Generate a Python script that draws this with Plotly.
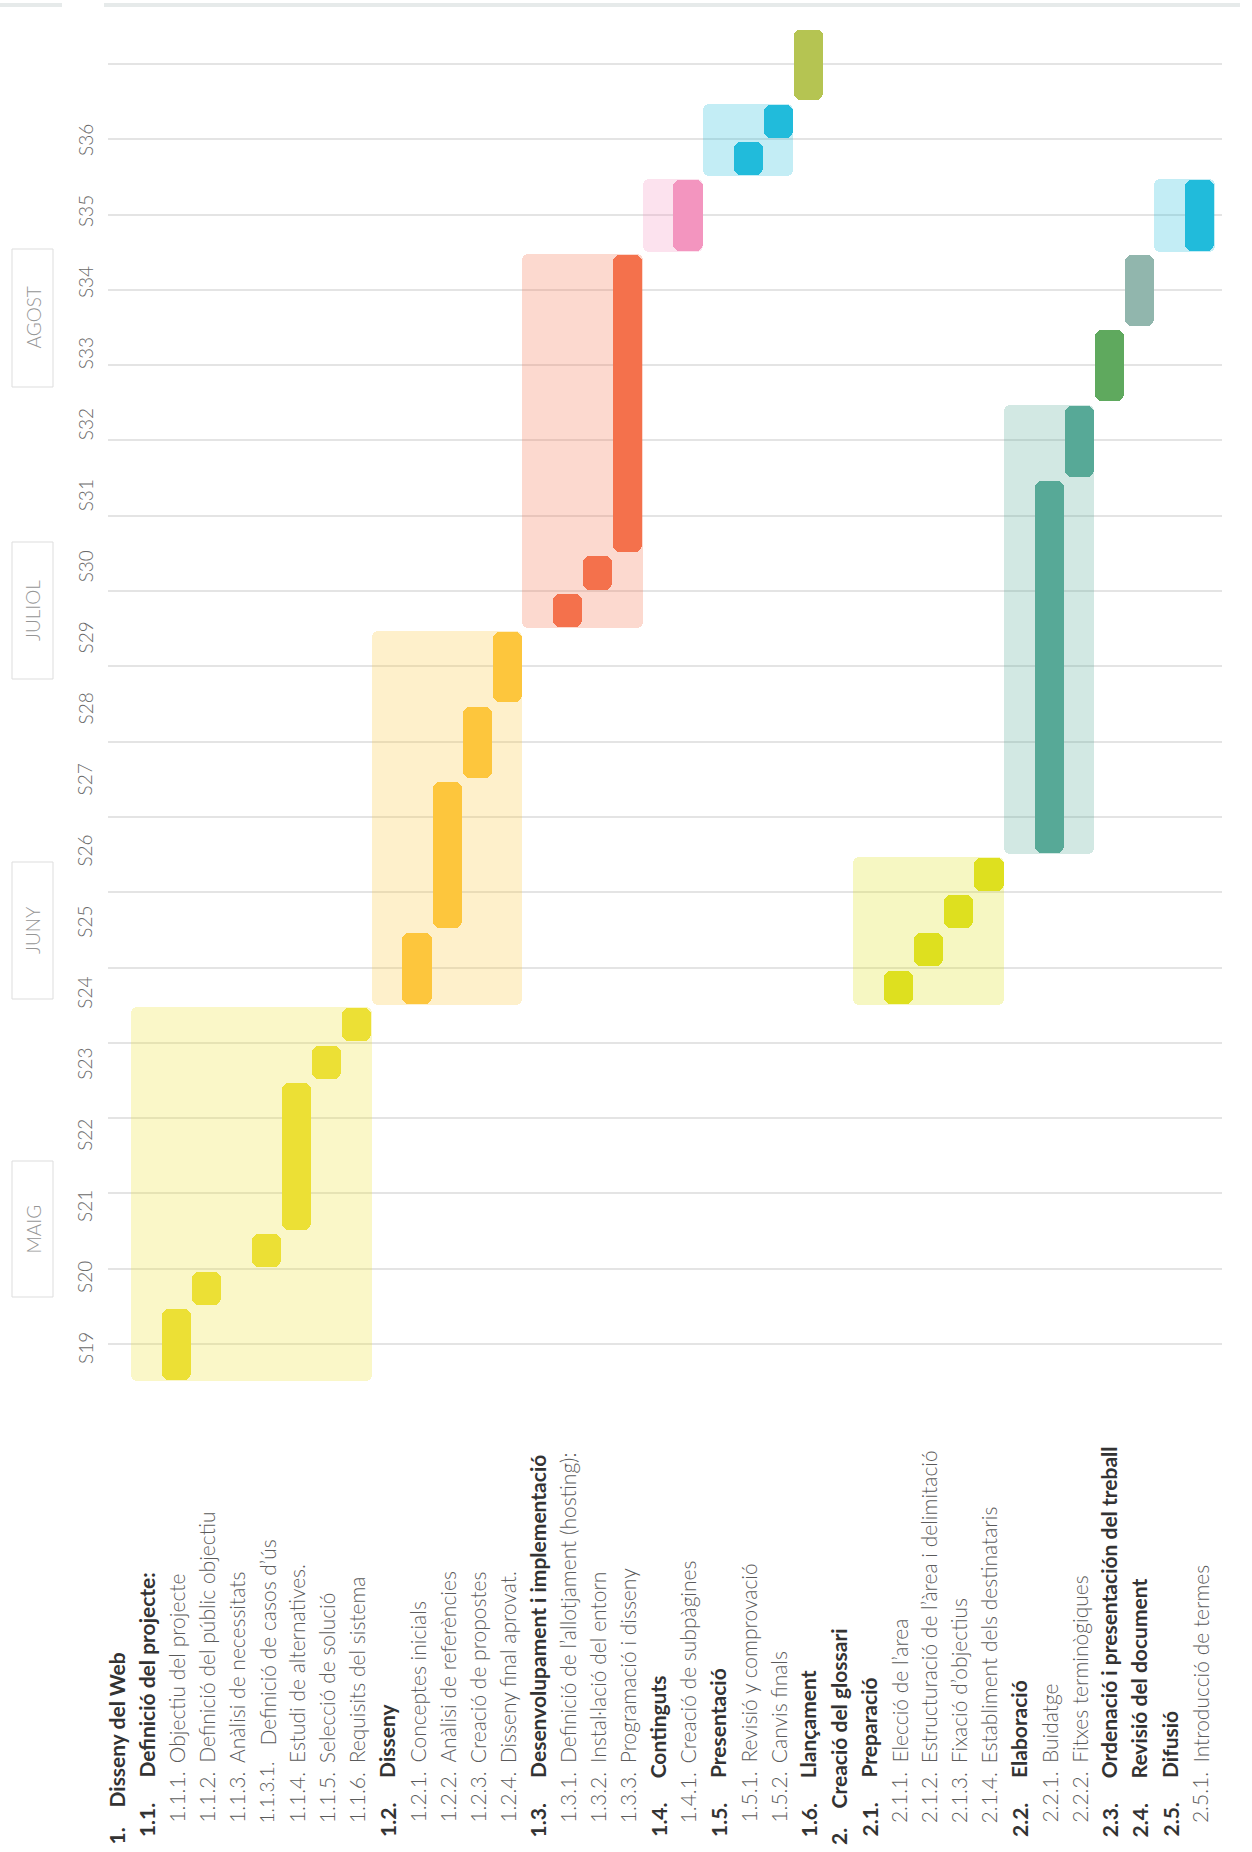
import plotly.graph_objects as go

# ---------------- data ----------------
task_numbers = ["1.", "1.1.", "1.1.1.", "1.1.2.", "1.1.3.", "1.1.3.1.", "1.1.4.", "1.1.5.", "1.1.6.",
                "1.2.", "1.2.1.", "1.2.2.", "1.2.3.", "1.2.4.",
                "1.3.", "1.3.1.", "1.3.2.", "1.3.3.",
                "1.4.", "1.4.1.", "1.5.", "1.5.1.", "1.5.2.", "1.6.",
                "2.", "2.1.", "2.1.1.", "2.1.2.", "2.1.3.", "2.1.4.",
                "2.2.", "2.2.1.", "2.2.2.", "2.3.", "2.4.", "2.5.", "2.5.1."]
task_names = ["Disseny del Web", "Definició del projecte:", "Objectiu del projecte",
              "Definició del públic objectiu", "Anàlisi de necessitats", "Definició de casos d’ús",
              "Estudi de alternatives.", "Selecció de solució", "Requisits del sistema",
              "Disseny", "Conceptes inicials", "Anàlisi de referències", "Creació de propostes",
              "Disseny final aprovat.",
              "Desenvolupament i implementació", "Definició de l’allotjament (hosting):",
              "Instal·lació del entorn", "Programació i disseny",
              "Continguts", "Creació de subpàgines", "Presentació", "Revisió y comprovació",
              "Canvis finals", "Llançament",
              "Creació del glossari", "Preparació", "Elecció de l’area",
              "Estructuració de l’àrea i delimitació", "Fixació d’objectius",
              "Establiment dels destinataris",
              "Elaboració", "Buidatge", "Fitxes terminògiques",
              "Ordenació i presentación del treball", "Revisió del document", "Difusió",
              "Introducció de termes"]

weeks = ["S19", "S20", "S21", "S22", "S23", "S24", "S25", "S26", "S27",
         "S28", "S29", "S30", "S31", "S32", "S33", "S34", "S35", "S36"]
week_numbers = [19, 20, 21, 22, 23, 24, 25, 26, 27, 28, 29, 30, 31, 32, 33, 34, 35, 36]
months = ["MAIG", "JUNY", "JULIOL", "AGOST"]

# task bars (start / end in week units)
bar_tasks = ["1.1.1.", "1.1.2.", "1.1.3.1.", "1.1.4.", "1.1.5.", "1.1.6.",
             "1.2.1.", "1.2.2.", "1.2.3.", "1.2.4.",
             "1.3.1.", "1.3.2.", "1.3.3.",
             "1.4.1.", "1.5.1.", "1.5.2.", "1.6.",
             "2.1.1.", "2.1.2.", "2.1.3.", "2.1.4.",
             "2.2.1.", "2.2.2.", "2.3.", "2.4.", "2.5.1."]
bar_start = [18.5, 19.5, 20.0, 20.5, 22.5, 23.0,
             23.5, 24.5, 26.5, 27.5,
             28.5, 29.0, 29.5,
             33.5, 34.5, 35.0, 35.5,
             23.5, 24.0, 24.5, 25.0,
             25.5, 30.5, 31.5, 32.5, 33.5]
bar_end = [19.5, 20.0, 20.5, 22.5, 23.0, 23.5,
           24.5, 26.5, 27.5, 28.5,
           29.0, 29.5, 33.5,
           34.5, 35.0, 35.5, 36.5,
           24.0, 24.5, 25.0, 25.5,
           30.5, 31.5, 32.5, 33.5, 34.5]

# phase background boxes
group_keys = ["1.1", "1.2", "1.3", "1.4", "1.5", "2.1", "2.2", "2.5"]
group_first = ["1.1.", "1.2.", "1.3.", "1.4.", "1.5.", "2.1.", "2.2.", "2.5."]
group_last = ["1.1.6.", "1.2.4.", "1.3.3.", "1.4.1.", "1.5.2.", "2.1.4.", "2.2.2.", "2.5.1."]
group_start = [18.5, 23.5, 28.5, 33.5, 34.5, 23.5, 25.5, 33.5]
group_end = [23.5, 28.5, 33.5, 34.5, 35.5, 25.5, 31.5, 34.5]

# ---------------- styles ----------------
section_color = {"1.1": "#ECE035", "1.2": "#FDC63D", "1.3": "#F4714C", "1.4": "#F395BF",
                 "1.5": "#21BBDB", "1.6": "#B5C452", "2.1": "#DEE01F", "2.2": "#57A997",
                 "2.3": "#5FA95E", "2.4": "#91B6AD", "2.5": "#21BBDB"}
BOX_ALPHA = 0.27

FONT = "Source Sans Pro, Lato, Open Sans, sans-serif"
LIGHT_COLOR = "#5a5a5a"
BOLD_COLOR = "#333333"
LABEL_SIZE = 21

W, H = 1252, 1852
PLOT_L, PLOT_R, PLOT_T, PLOT_B = 108, 1222, 30, 1400
Y_REF_PX, PX_PER_WEEK = 1344, 75.3     # pixel of week 19 line, pixels per week
X_REF_PX, PX_PER_COL = 116, 30.1       # pixel of first column centre, pixels per column


def px_x(px):
    return (px - PLOT_L) / (PLOT_R - PLOT_L)


def px_y(py):
    return (PLOT_B - py) / (PLOT_B - PLOT_T)


def week_of_px(py):
    return 19 + (Y_REF_PX - py) / PX_PER_WEEK


y_range = [week_of_px(PLOT_B), week_of_px(PLOT_T)]
x_range = [(PLOT_L - X_REF_PX) / PX_PER_COL, (PLOT_R - X_REF_PX) / PX_PER_COL]


def hex_rgba(h, a):
    h = h.lstrip("#")
    return "rgba(%d,%d,%d,%.3f)" % (int(h[0:2], 16), int(h[2:4], 16), int(h[4:6], 16), a)


def section_of(num):
    parts = [p for p in num.split(".") if p]
    return ".".join(parts[:2])


col_index = {n: i for i, n in enumerate(task_numbers)}

fig = go.Figure()

# ---- background phase boxes ----
gap_box = 1.0 / PX_PER_WEEK
for key, first, last, s, e in zip(group_keys, group_first, group_last, group_start, group_end):
    i0, i1 = col_index[first], col_index[last]
    xc = (i0 + i1) / 2.0
    width = (i1 - i0 + 1)
    s2, e2 = s + gap_box * 0.5, e - gap_box * 2
    fig.add_trace(go.Bar(
        x=[xc], base=[s2], y=[e2 - s2], width=[width],
        marker=dict(color=hex_rgba(section_color[key], BOX_ALPHA), line=dict(width=0),
                    cornerradius=6),
        hoverinfo="skip", showlegend=False))

# ---- task bars ----
gap_bar = 1.5 / PX_PER_WEEK
sections = []
for t in bar_tasks:
    s = section_of(t)
    if s not in sections:
        sections.append(s)
for sec in sections:
    xs, bases, ys = [], [], []
    for t, s, e in zip(bar_tasks, bar_start, bar_end):
        if section_of(t) != sec:
            continue
        s2, e2 = s + gap_bar, e - gap_bar * 2
        xs.append(col_index[t])
        bases.append(s2)
        ys.append(e2 - s2)
    fig.add_trace(go.Bar(
        x=xs, base=bases, y=ys, width=[0.97] * len(xs),
        marker=dict(color=section_color[sec], line=dict(width=0), cornerradius=7),
        hoverinfo="skip", showlegend=False))

annotations = []

# ---- week labels (evenly spread, as in the original) ----
lab_top_px, lab_bot_px = 140, 1348
for k, wlab in enumerate(weeks):
    py = lab_bot_px - k * (lab_bot_px - lab_top_px) / (len(weeks) - 1)
    annotations.append(dict(
        x=px_x(85), xref="paper", y=week_of_px(py), yref="y",
        text=wlab, showarrow=False, textangle=-90, xanchor="center", yanchor="middle",
        font=dict(family=FONT, size=19, color="#6a6a6a", weight=300)))

# ---- month boxes ----
month_box_px = [(1161, 1297), (862, 999), (542, 679), (249, 387)]
shapes = []
for m, (y0, y1) in zip(months, month_box_px):
    shapes.append(dict(type="rect", xref="paper", yref="paper",
                       x0=px_x(12), x1=px_x(53), y0=px_y(y1), y1=px_y(y0),
                       line=dict(color="#DDDDDD", width=1), fillcolor="rgba(0,0,0,0)"))
    annotations.append(dict(
        x=px_x(32.5), xref="paper", y=px_y((y0 + y1) / 2.0), yref="paper",
        text=m, showarrow=False, textangle=-90, xanchor="center", yanchor="middle",
        font=dict(family=FONT, size=19, color="#959595", weight=300)))

# ---- header line ----
shapes.append(dict(type="line", xref="paper", yref="paper", x0=px_x(0), x1=px_x(62),
                   y0=px_y(5), y1=px_y(5), line=dict(color="#E6EAEA", width=4)))
shapes.append(dict(type="line", xref="paper", yref="paper", x0=px_x(104), x1=px_x(1240),
                   y0=px_y(5), y1=px_y(5), line=dict(color="#E6EAEA", width=4)))

# ---- task labels ----
num_bottom_px = {1: 1847, 2: 1839, 3: 1825, 4: 1826}
name_bottom_px = {1: 1810, 2: 1780, 3: 1765, 4: 1748}
num_size = {1: LABEL_SIZE, 2: LABEL_SIZE, 3: LABEL_SIZE, 4: LABEL_SIZE - 2}
for i, (num, name) in enumerate(zip(task_numbers, task_names)):
    level = num.count(".")
    bold = level <= 2
    color = BOLD_COLOR if bold else LIGHT_COLOR
    weight = 700 if bold else 300
    annotations.append(dict(x=i, xref="x", y=px_y(num_bottom_px[level]), yref="paper",
                            text=num, showarrow=False, textangle=-90,
                            xanchor="center", yanchor="bottom",
                            font=dict(family=FONT, size=num_size[level], color=color,
                                      weight=weight)))
    annotations.append(dict(x=i, xref="x", y=px_y(name_bottom_px[level]), yref="paper",
                            text=name, showarrow=False, textangle=-90,
                            xanchor="center", yanchor="bottom",
                            font=dict(family=FONT, size=LABEL_SIZE, color=color,
                                      weight=weight)))

fig.update_layout(
    width=W, height=H,
    margin=dict(l=PLOT_L, r=W - PLOT_R, t=PLOT_T, b=H - PLOT_B, pad=0),
    paper_bgcolor="white", plot_bgcolor="white",
    barmode="overlay", bargap=0,
    showlegend=False,
    xaxis=dict(range=x_range, showgrid=False, zeroline=False, showticklabels=False,
               showline=False, ticks="", fixedrange=True),
    yaxis=dict(range=y_range, tickmode="array", tickvals=week_numbers, showgrid=True,
               gridcolor="#E4E4E4", gridwidth=1.5, zeroline=False, showticklabels=False,
               showline=False, ticks="", fixedrange=True),
    annotations=annotations,
    shapes=shapes,
    font=dict(family=FONT),
)

fig.write_html("out.html")
